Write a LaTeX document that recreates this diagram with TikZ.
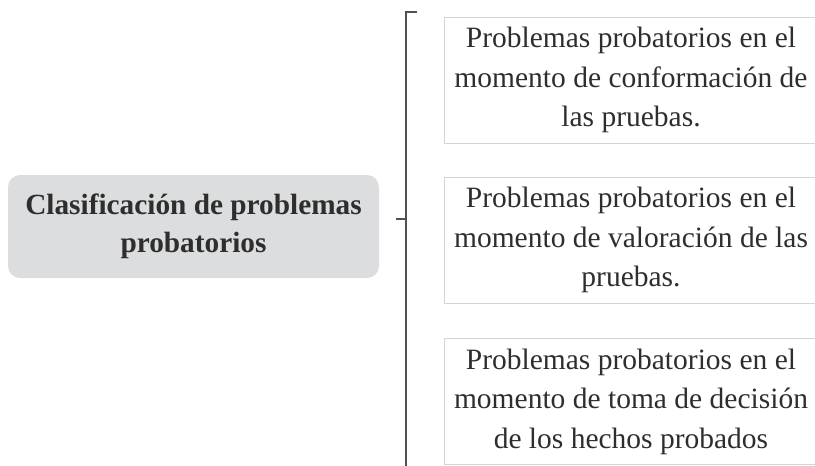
\documentclass[tikz,border=0pt]{standalone}
\usepackage{fontspec}
\setmainfont{Liberation Serif}
\definecolor{rootfill}{HTML}{DCDDDE}
\definecolor{boxline}{HTML}{D4D4D4}
\definecolor{brk}{HTML}{505050}
\definecolor{txt}{HTML}{2E2E2E}
\tikzset{
  rootbox/.style={draw=none, fill=rootfill, rounded corners=12pt, minimum width=371pt, minimum height=103pt, align=center, text=txt, font=\fontsize{29.3}{38}\selectfont\bfseries, inner sep=0pt},
  leafbox/.style={draw=boxline, line width=1pt, minimum width=374pt, minimum height=126pt, align=center, text=txt, font=\fontsize{29.5}{39.5}\selectfont, inner sep=0pt},
  brace/.style={draw=brk, line width=1.6pt}
}
\begin{document}
\begin{tikzpicture}[x=1pt,y=-1pt]
\useasboundingbox (0,0) rectangle (815,466);
\node[rootbox] (root) at (193.5,226.5) {Clasificación de problemas\\probatorios};
\node[leafbox] (b1) at (631,80) {Problemas probatorios en el\\momento de conformación de\\las pruebas.};
\node[leafbox] (b2) at (631,240) {Problemas probatorios en el\\momento de valoración de las\\pruebas.};
\node[leafbox] (b3) at (631,401.5) {Problemas probatorios en el\\momento de toma de decisión\\de los hechos probados};
\coordinate (top) at (406,12);
\coordinate (toptick) at (417,12);
\coordinate (bot) at (406,470);
\coordinate (mid) at (406,219);
\coordinate (midtick) at (396,219);
\draw[brace] (toptick) -- (top) -- (bot);
\draw[brace] (midtick) -- (mid);
\end{tikzpicture}
\end{document}
